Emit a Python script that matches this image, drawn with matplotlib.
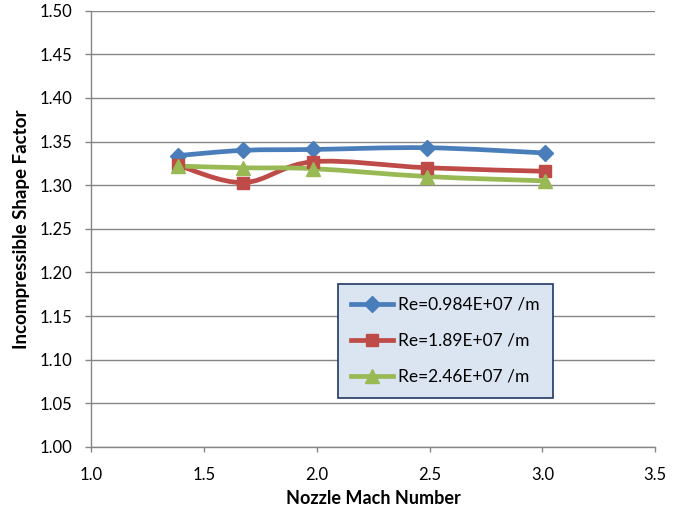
import numpy as np
import matplotlib.pyplot as plt
from matplotlib.path import Path
from matplotlib.patches import PathPatch
from matplotlib.lines import Line2D

plt.rcParams['font.family'] = ['Lato', 'DejaVu Sans']

mach = [1.385, 1.675, 1.985, 2.49, 3.01]
re_low = [1.334, 1.340, 1.341, 1.343, 1.337]
re_mid = [1.323, 1.303, 1.327, 1.320, 1.316]
re_high = [1.322, 1.320, 1.319, 1.310, 1.305]

labels = ["Re=0.984E+07 /m", "Re=1.89E+07 /m", "Re=2.46E+07 /m"]
colors = ["#4a7ebb", "#be4b48", "#98b954"]
markers = ["D", "s", "^"]
msizes = [8, 9, 9.5]


def smooth_path(x, y, t=0.17):
    # excel-style smoothed line: bezier through the points
    x = np.asarray(x, float)
    y = np.asarray(y, float)
    verts = [(x[0], y[0])]
    codes = [Path.MOVETO]
    n = len(x)
    for i in range(n - 1):
        p0 = (x[max(i - 1, 0)], y[max(i - 1, 0)])
        p1 = (x[i], y[i])
        p2 = (x[i + 1], y[i + 1])
        p3 = (x[min(i + 2, n - 1)], y[min(i + 2, n - 1)])
        c1 = (p1[0] + (p2[0] - p0[0]) * t, p1[1] + (p2[1] - p0[1]) * t)
        c2 = (p2[0] - (p3[0] - p1[0]) * t, p2[1] - (p3[1] - p1[1]) * t)
        verts += [c1, c2, p2]
        codes += [Path.CURVE4] * 3
    return Path(verts, codes)


fig = plt.figure(figsize=(6.84, 5.12), dpi=100)
ax = fig.add_axes([0.133, 0.127, 0.825, 0.852])

handles = []
for ys, lab, c, m, ms in zip([re_low, re_mid, re_high], labels, colors, markers, msizes):
    ax.add_patch(PathPatch(smooth_path(mach, ys), fill=False, edgecolor=c,
                           linewidth=3.4, capstyle='round', zorder=3))
    ax.plot(mach, ys, linestyle='none', marker=m, markersize=ms, color=c, zorder=4)
    handles.append(Line2D([], [], color=c, linewidth=3.4, marker=m, markersize=ms))

ax.set_xlim(1.0, 3.5)
ax.set_ylim(1.0, 1.5)
ax.set_xticks(np.arange(1.0, 3.51, 0.5))
ax.set_yticks(np.arange(1.0, 1.501, 0.05))
ax.set_xticklabels([f"{v:.1f}" for v in np.arange(1.0, 3.51, 0.5)])
ax.set_yticklabels([f"{v:.2f}" for v in np.arange(1.0, 1.501, 0.05)])
ax.tick_params(labelsize=12, colors='#868686', labelcolor='black', width=1)
ax.tick_params(axis='x', length=3.5, pad=11)
ax.tick_params(axis='y', length=4.5, pad=9)
ax.grid(axis='y', color='#868686', linewidth=1)
ax.set_axisbelow(True)
for s in ['top', 'right']:
    ax.spines[s].set_visible(False)
for s in ['left', 'bottom']:
    ax.spines[s].set_color('#868686')
    ax.spines[s].set_linewidth(1)

ax.set_xlabel("Nozzle Mach Number", fontsize=13, fontweight='bold', labelpad=5)
ax.set_ylabel("Incompressible Shape Factor", fontsize=13.5, fontweight='bold', labelpad=7)

leg = ax.legend(handles, labels, loc='upper left', bbox_to_anchor=(0.438, 0.374),
                borderaxespad=0, fontsize=12.5, frameon=True, fancybox=False,
                handlelength=2.4, labelspacing=1.15, borderpad=0.75, handletextpad=0.3)
leg.get_frame().set_facecolor('#dbe5f1')
leg.get_frame().set_edgecolor('#1f3864')
leg.get_frame().set_linewidth(1.2)
leg.get_frame().set_alpha(1)

fig.savefig("out.png", dpi=100)
